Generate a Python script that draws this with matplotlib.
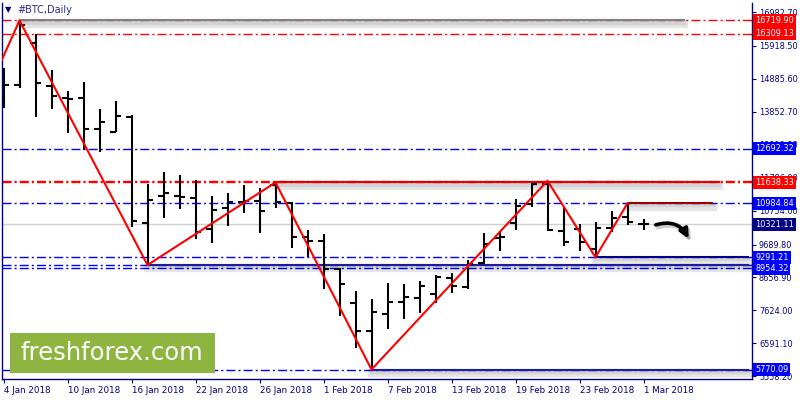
import matplotlib
matplotlib.use('Agg')
import matplotlib.pyplot as plt
import matplotlib.patheffects as pe
from matplotlib.patches import Rectangle
import numpy as np
import pandas as pd

plt.rcParams['lines.scale_dashes'] = False

# daily bars, weekdays 4 Jan - 1 Mar 2018
dates = pd.bdate_range('2018-01-04', '2018-03-01')
opens = [14300, 14695, 16003, 14664, 14290, 14297, 13315, 13230, 13682, 10375,
         11222, 11222, 11160, 10178, 10846, 11034, 11066, 11558, 11003, 9917,
         9811, 8914, 7866, 6987, 7511, 7897, 8004, 8129, 8631, 8358,
         9102, 9910, 10357, 10962, 11590, 10115, 10168, 9541, 10218, 10545, 10330]
highs = [15219, 16720, 16295, 15166, 14507, 14799, 13942, 14203, 13754, 11590,
         11956, 11872, 11715, 11213, 11298, 11558, 11454, 11638, 11034, 10146,
         10012, 8945, 8233, 7972, 8474, 8452, 8556, 8735, 8807, 9205,
         10062, 10115, 11109, 11611, 11690, 10877, 10325, 10407, 10752, 10985, 10482]
lows = [13989, 14592, 13701, 13933, 13199, 12656, 12603, 13211, 10231, 9048,
        10513, 10805, 9855, 9729, 10272, 10670, 10062, 10846, 9572, 9309,
        8286, 7449, 6435, 5770, 7031, 7354, 7552, 7847, 8180, 8286,
        9080, 9497, 10146, 10877, 10120, 9644, 9497, 9291, 10093, 10303, 10146]
closes = [14695, 16577, 14748, 14350, 14270, 13305, 13544, 13723, 10429, 11088,
          11316, 11191, 10093, 10774, 11034, 11056, 10742, 11025, 9936, 9811,
          8923, 8443, 6987, 7584, 7897, 8035, 8390, 8663, 8399, 9080,
          9707, 9925, 10890, 11580, 10140, 9779, 9779, 10200, 10532, 10407, 10321]

# zigzag swing points (bar index, price)
zz_idx = [-1, 1, 9, 17, 23, 34, 37, 39]
zz_price = [14475, 16720, 9048, 11638.33, 5770.09, 11690, 9291.21, 10984.84]

red_levels = [16719.90, 16309.13, 11690, 11638.33]
blue_levels = [12692.32, 10984.84, 9291.21, 9050, 8954.32, 5770.09]
current = 10321.11

# shaded trend lines: start bar, end bar, price, colour
trend_lines = [(1, 42.5, 16719.90, '#808080'),
               (17, 44.7, 11638.33, '#e00000'),
               (39, 44.3, 10984.84, '#990000'),
               (37, 46.5, 9291.21, '#00008b'),
               (9, 46.5, 9050, '#1c1c9c'),
               (23, 46.5, 5770.09, '#1c1c9c')]

tick_vals = [16982.70, 15918.50, 14885.60, 13852.70, 12819.80, 11786.90,
             10754.00, 9689.80, 8656.90, 7624.00, 6591.10, 5558.20]
box_labels = [(16719.90, '#ff0000'), (16309.13, '#ff0000'), (12692.32, '#0000ff'),
              (11638.33, '#ff0000'), (10984.84, '#0000ff'), (10321.11, '#000080'),
              (9291.21, '#0000ff'), (8954.32, '#0000ff'), (5770.09, '#0000ff')]

date_idx = list(range(0, len(dates), 4))
date_labels = [f'{dates[i].day} {dates[i].strftime("%b %Y")}' for i in date_idx]

navy = '#000080'
dashdot = (0, (6.5, 2.2, 1.5, 2.2))

fig = plt.figure(figsize=(8, 4), dpi=100)
ax = fig.add_axes([2 / 800, 21 / 400, 750 / 800, 376 / 400])
x = np.arange(len(dates))

# level lines
ax.axhline(current, color='#d0d0d0', lw=1, zorder=1)
for p in red_levels:
    ax.axhline(p, color='red', lw=1, ls=dashdot, zorder=2)
for p in blue_levels:
    ax.axhline(p, color='blue', lw=1, ls=dashdot, zorder=2)

shadow = [pe.SimpleLineShadow(offset=(0.5, -2.5), shadow_color='k', alpha=0.1, linewidth=6),
          pe.SimpleLineShadow(offset=(0.5, -1.5), shadow_color='k', alpha=0.08, linewidth=3),
          pe.Normal()]
for x0, x1, p, c in trend_lines:
    ax.plot([x0, x1], [p, p], color=c, lw=1.5, zorder=3, path_effects=shadow)

# bars
ax.vlines(x, lows, highs, color='k', lw=1.5, zorder=4)
ax.hlines(opens, x - 0.36, x, color='k', lw=1.5, zorder=4)
ax.hlines(closes, x, x + 0.36, color='k', lw=1.5, zorder=4)

# zigzag
ax.plot(zz_idx, zz_price, color='red', lw=1.5, zorder=5)

# forecast arrow
ax.annotate('', xy=(42.9, 9800), xytext=(40.6, 10280),
            arrowprops=dict(arrowstyle='-|>', color='k', lw=2.6, mutation_scale=13,
                            connectionstyle='arc3,rad=-0.45',
                            path_effects=[pe.SimpleLineShadow(offset=(1.5, -2), alpha=0.2),
                                          pe.Normal()]),
            zorder=6)

ax.set_xlim(-0.094, 46.78)
ax.set_ylim(5472.3, 17267.4)

for s in ['left', 'bottom', 'right']:
    ax.spines[s].set_color(navy)
    ax.spines[s].set_linewidth(1)
ax.spines['top'].set_visible(False)

ax.yaxis.tick_right()
ax.set_yticks(tick_vals)
ax.set_yticklabels([f'{v:.2f}' for v in tick_vals])
ax.tick_params(axis='y', length=3, color=navy, labelcolor=navy, labelsize=5.9, pad=2)
ax.set_xticks(date_idx)
ax.set_xticklabels(date_labels)
for lbl in ax.get_xticklabels():
    lbl.set_ha('left')
ax.tick_params(axis='x', length=3, color=navy, labelcolor=navy, labelsize=6.3, pad=2)

for p, c in box_labels:
    ax.text(1.0 + 3 / 750, p, f'{p:.2f}', transform=ax.get_yaxis_transform(),
            va='center', ha='left', color='white', fontsize=5.9, zorder=10, clip_on=False,
            bbox=dict(boxstyle='square,pad=0.25', fc=c, ec='none'))

# title
fig.text(5 / 800, 1 - 10 / 400, '\u25bc', color=navy, fontsize=6, va='center')
fig.text(17 / 800, 1 - 10 / 400, '#BTC,Daily', color='#2a2a9a', fontsize=7, va='center')

# watermark
fig.add_artist(Rectangle((10 / 800, 1 - 373 / 400), 205 / 800, 40 / 400,
                         transform=fig.transFigure, fc='#8db53f', ec='none', zorder=8))
fig.text(112 / 800, 1 - 353 / 400, 'freshforex.com', color='white', fontsize=17.5,
         ha='center', va='center', zorder=9)

plt.savefig('out.png', dpi=100)
